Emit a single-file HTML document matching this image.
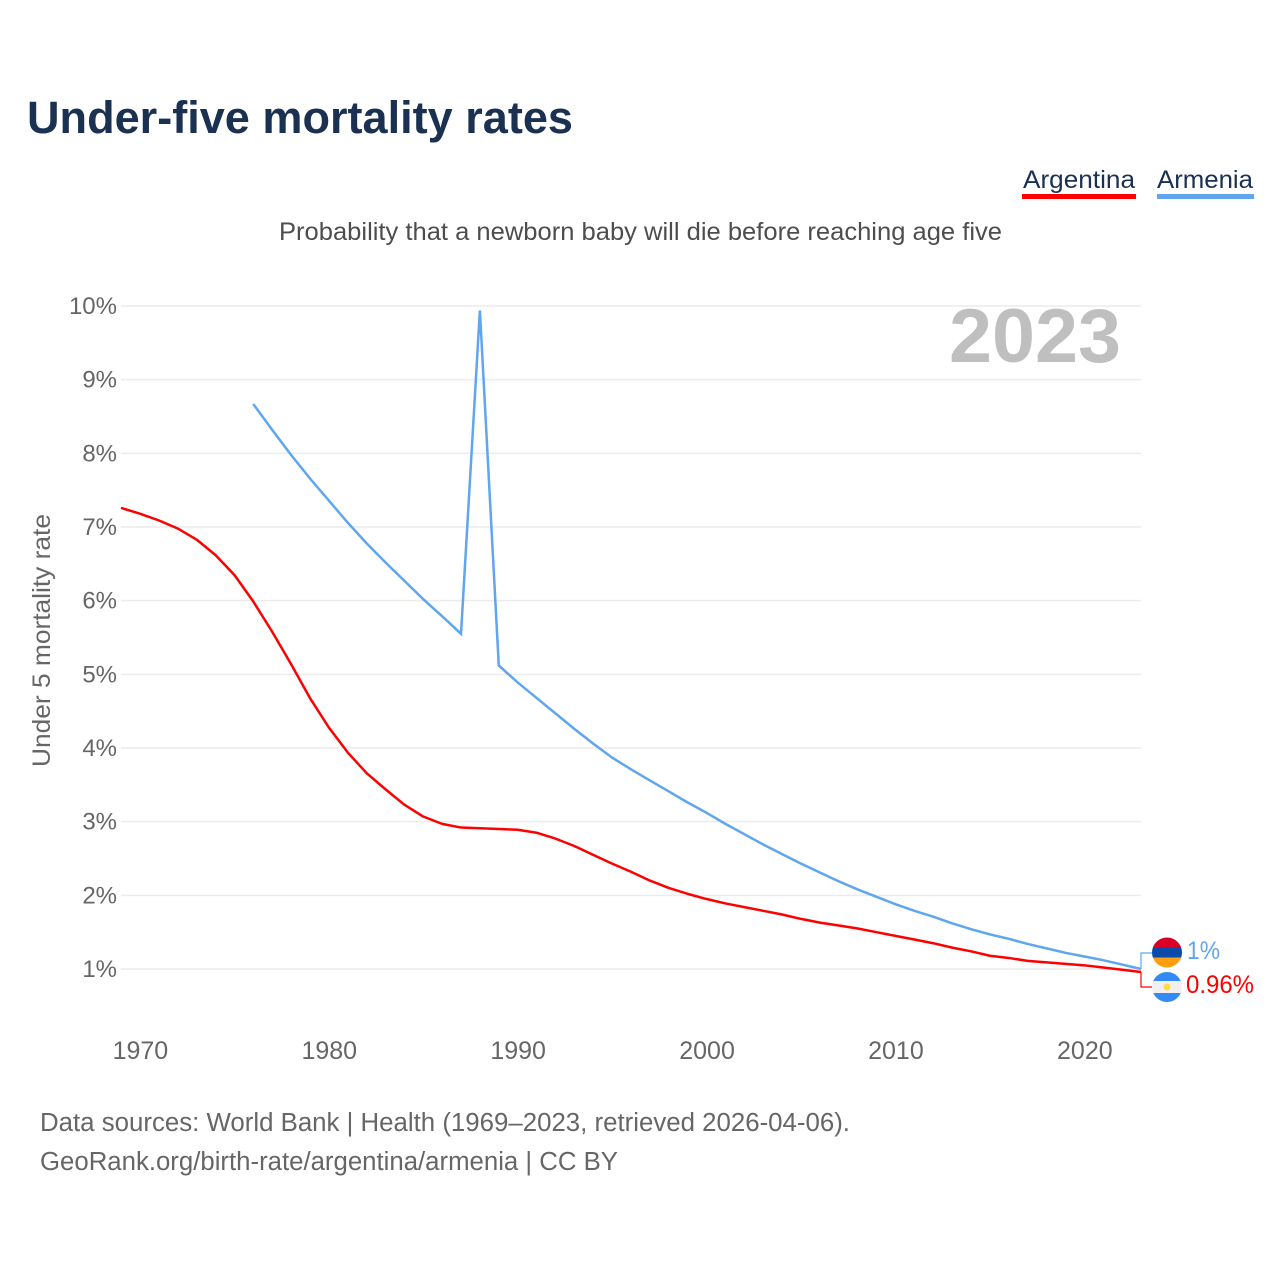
<!DOCTYPE html>
<html>
<head>
<meta charset="utf-8">
<title>Under-five mortality rates</title>
<style>
html,body{margin:0;padding:0;background:#fff;width:1280px;height:1280px;overflow:hidden}
svg{display:block}
text{font-family:"Liberation Sans",sans-serif}
</style>
</head>
<body>
<svg id="chart" width="1280" height="1280" viewBox="0 0 1280 1280" xmlns="http://www.w3.org/2000/svg">
  <rect width="1280" height="1280" fill="#fff"/>
  <text x="27" y="133" font-size="45" font-weight="700" fill="#1a3152" textLength="546" lengthAdjust="spacingAndGlyphs">Under-five mortality rates</text>

  <g>
    <text x="1023" y="188" font-size="25" fill="#1a3152" textLength="112" lengthAdjust="spacingAndGlyphs">Argentina</text>
    <rect x="1022" y="194" width="114" height="5" fill="#ff0000"/>
  </g>
  <g>
    <text x="1157" y="188" font-size="25" fill="#1a3152" textLength="96" lengthAdjust="spacingAndGlyphs">Armenia</text>
    <rect x="1157" y="194" width="97" height="5" fill="#5fa6ee"/>
  </g>

  <text x="279" y="240" font-size="25" fill="#4d4d4d" textLength="723" lengthAdjust="spacingAndGlyphs">Probability that a newborn baby will die before reaching age five</text>

  <g id="grid"></g>
  <g id="yticks"></g>
  <g id="xticks"></g>

  <text x="949" y="362" font-size="76" font-weight="700" fill="#bfbfbf" textLength="172" lengthAdjust="spacingAndGlyphs">2023</text>

  <text transform="translate(50,767) rotate(-90)" x="0" y="0" font-size="25" fill="#666" textLength="253" lengthAdjust="spacingAndGlyphs">Under 5 mortality rate</text>

  <g id="series"></g>

  <defs>
    <clipPath id="clip-am"><circle cx="1167" cy="952.5" r="15"/></clipPath>
    <clipPath id="clip-ar"><circle cx="1167" cy="987" r="15"/></clipPath>
  </defs>
  <g clip-path="url(#clip-am)">
    <rect x="1152" y="937" width="30" height="11" fill="#d80027"/>
    <rect x="1152" y="947.5" width="30" height="10.5" fill="#0a4aa8"/>
    <rect x="1152" y="957.5" width="30" height="11" fill="#ff9f10"/>
  </g>
  <g clip-path="url(#clip-ar)">
    <rect x="1152" y="972" width="30" height="30" fill="#f0f0f0"/>
    <rect x="1152" y="972" width="30" height="9" fill="#338af3"/>
    <rect x="1152" y="993" width="30" height="9" fill="#338af3"/>
    <circle cx="1167" cy="987" r="3.5" fill="#ffda44"/>
  </g>
  <text x="1187" y="959" font-size="25" fill="#5fa6ee" textLength="33" lengthAdjust="spacingAndGlyphs">1%</text>
  <text x="1186" y="993" font-size="25" fill="#ff0000" textLength="68" lengthAdjust="spacingAndGlyphs">0.96%</text>

  <text x="40" y="1131" font-size="25.5" fill="#666" textLength="810" lengthAdjust="spacingAndGlyphs">Data sources: World Bank | Health (1969–2023, retrieved 2026-04-06).</text>
  <text x="40" y="1170" font-size="25.5" fill="#666" textLength="578" lengthAdjust="spacingAndGlyphs">GeoRank.org/birth-rate/argentina/armenia | CC BY</text>
</svg>
<script>
const yTickValues = [1, 2, 3, 4, 5, 6, 7, 8, 9, 10];
const xTickYears = [1970, 1980, 1990, 2000, 2010, 2020];
const argentinaStartYear = 1969;
const argentinaValues = [7.26, 7.18, 7.09, 6.98, 6.83, 6.62, 6.35, 5.99, 5.58, 5.14, 4.68, 4.28, 3.94, 3.66, 3.44, 3.23, 3.07, 2.97, 2.92, 2.91, 2.90, 2.89, 2.85, 2.77, 2.67, 2.55, 2.43, 2.32, 2.20, 2.10, 2.02, 1.95, 1.89, 1.84, 1.79, 1.74, 1.68, 1.63, 1.59, 1.55, 1.50, 1.45, 1.40, 1.35, 1.29, 1.24, 1.18, 1.15, 1.11, 1.09, 1.07, 1.05, 1.02, 0.99, 0.96];
const armeniaStartYear = 1976;
const armeniaValues = [8.67, 8.32, 7.98, 7.66, 7.36, 7.06, 6.78, 6.52, 6.27, 6.02, 5.79, 5.55, 9.94, 5.12, 4.89, 4.68, 4.47, 4.26, 4.06, 3.87, 3.71, 3.56, 3.41, 3.26, 3.12, 2.97, 2.83, 2.69, 2.56, 2.43, 2.31, 2.19, 2.08, 1.98, 1.88, 1.79, 1.71, 1.62, 1.54, 1.47, 1.41, 1.34, 1.28, 1.22, 1.17, 1.12, 1.06, 1.00];

function xScale(year) { return 121 + (year - 1969) * (1141 - 121) / (2023 - 1969); }
function yScale(value) { return 969 - (value - 1) * (969 - 306) / 9; }

const NS = 'http://www.w3.org/2000/svg';
function make(tag, attrs, parent) {
  const el = document.createElementNS(NS, tag);
  for (const k in attrs) el.setAttribute(k, attrs[k]);
  parent.appendChild(el);
  return el;
}

const grid = document.getElementById('grid');
const yticks = document.getElementById('yticks');
const xticks = document.getElementById('xticks');
const series = document.getElementById('series');

yTickValues.forEach(function (v) {
  const line = make('line', { x1: 121, x2: 1141, y1: yScale(v), y2: yScale(v), stroke: '#ececec', 'stroke-width': 1.5 }, grid);
  
  
  const label = make('text', { x: 117, y: yScale(v) + 8, 'text-anchor': 'end', 'font-size': 24, fill: '#666' }, yticks);
  label.textContent = v + '%';
  
  
});

xTickYears.forEach(function (year) {
  const label = make('text', { x: xScale(year) + 0.5, y: 1059, 'text-anchor': 'middle', 'font-size': 25, fill: '#666' }, xticks);
  label.textContent = String(year);
  
  
});

function linePoints(startYear, values) {
  return values.map(function (v, i) {
    return xScale(startYear + i).toFixed(2) + ',' + yScale(v).toFixed(2);
  }).join(' ');
}

const armeniaLine = make('polyline', { points: linePoints(armeniaStartYear, armeniaValues), fill: 'none', stroke: '#5fa6ee', 'stroke-width': 2.5, 'stroke-linejoin': 'miter' }, series);



const argentinaLine = make('polyline', { points: linePoints(argentinaStartYear, argentinaValues), fill: 'none', stroke: '#ff0000', 'stroke-width': 2.5, 'stroke-linejoin': 'round' }, series);



const endX = xScale(2023);
const armeniaEndY = yScale(armeniaValues[armeniaValues.length - 1]);
const argentinaEndY = yScale(argentinaValues[argentinaValues.length - 1]);

const armeniaConnector = make('polyline', { points: endX + ',' + armeniaEndY + ' ' + endX + ',953 1152,953', fill: 'none', stroke: '#5fa6ee', 'stroke-width': 1.2 }, series);



const argentinaConnector = make('polyline', { points: endX + ',' + argentinaEndY + ' ' + endX + ',987 1152,987', fill: 'none', stroke: '#ff0000', 'stroke-width': 1.2 }, series);


</script>
</body>
</html>
